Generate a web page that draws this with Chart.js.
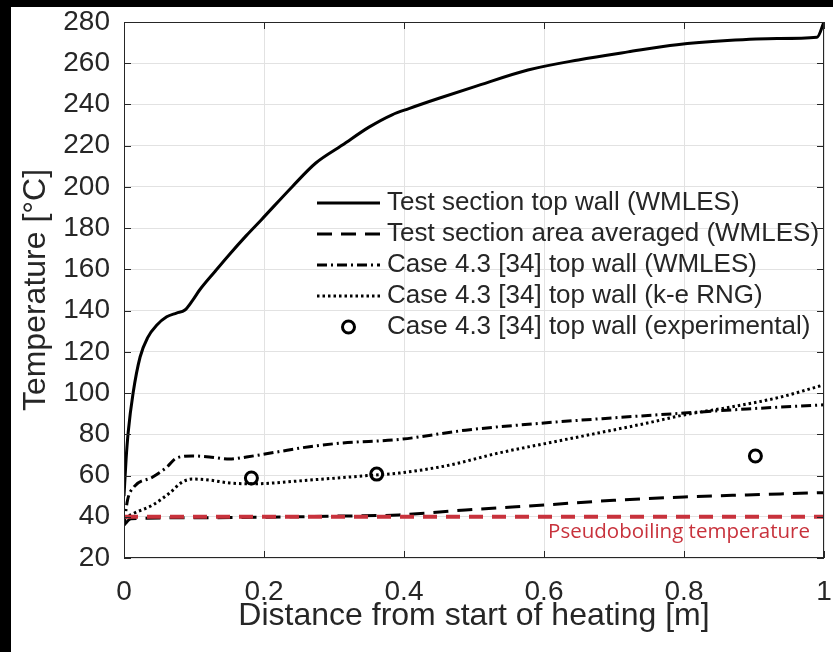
<!DOCTYPE html>
<html><head><meta charset="utf-8">
<script src="https://cdn.jsdelivr.net/npm/chart.js@4/dist/chart.umd.min.js"></script>
<style>
html,body{margin:0;padding:0;background:#000;width:833px;height:652px;overflow:hidden}
#wrap{position:absolute;left:11px;top:7px;width:822px;height:645px;background:#fff}
canvas{display:block}
</style></head><body>
<div id="wrap"><canvas id="c" width="822" height="645"></canvas></div>
<script>
// ---- data ----
const topWallX = [0, 0.003, 0.006, 0.013, 0.023, 0.034, 0.047, 0.061, 0.075, 0.087, 0.098, 0.108, 0.13, 0.15, 0.175, 0.196, 0.24, 0.274, 0.312, 0.35, 0.383, 0.407, 0.45, 0.5, 0.577, 0.649, 0.72, 0.79, 0.862, 0.933, 0.99, 1.0];
const topWallY = [50, 68, 81, 100, 117.5, 127, 133, 137, 138.8, 140.3, 145, 150, 159, 167, 176.5, 184, 200, 211.6, 220.3, 229, 235, 238, 243, 248.5, 256.7, 261.6, 265.5, 269, 271, 272, 272.6, 280];

const areaAvgX = [0, 0.01, 0.1, 0.2, 0.3, 0.393, 0.488, 0.6, 0.7, 0.8, 0.89, 1.0];
const areaAvgY = [36, 39, 39.5, 39.8, 40.3, 40.9, 43.3, 45.7, 48, 49.6, 50.6, 51.7];

const caseWmlesX = [0, 0.005, 0.013, 0.041, 0.061, 0.075, 0.098, 0.122, 0.151, 0.175, 0.218, 0.265, 0.312, 0.393, 0.488, 0.6, 0.7, 0.8, 0.89, 1.0];
const caseWmlesY = [36, 48, 54, 59.3, 64, 68.5, 69.5, 69, 68, 69, 71.4, 74, 75.8, 77.5, 82, 85.5, 88, 90.3, 92.3, 94.3];

const caseRngX = [0, 0.018, 0.041, 0.065, 0.084, 0.098, 0.122, 0.151, 0.184, 0.265, 0.36, 0.393, 0.464, 0.535, 0.606, 0.677, 0.748, 0.8, 0.866, 0.937, 1.0];
const caseRngY = [39.4, 42.3, 45.7, 51.5, 57, 58.3, 57.8, 56.4, 56, 57.8, 60.3, 61.2, 65, 70.9, 75.8, 80.6, 85.5, 89.4, 93.2, 98, 104];

const expX = [0.182, 0.361, 0.902];
const expY = [58.8, 60.7, 69.5];

const pseudoX = [0, 1];
const pseudoY = [40, 40];
const pseudoLabel = 'Pseudoboiling temperature';
const pseudoLabelAt = [0.98, 32.6];

const seriesLabels = [
  'Test section top wall (WMLES)',
  'Test section area averaged (WMLES)',
  'Case 4.3 [34] top wall (WMLES)',
  'Case 4.3 [34] top wall (k-e RNG)',
  'Case 4.3 [34] top wall (experimental)'
];
const xTitle = 'Distance from start of heating [m]';
const yTitle = 'Temperature [°C]';

// ---- helpers ----
const pts = (xs, ys) => xs.map((x, i) => ({x, y: ys[i]}));
const INK = '#262626';
const RED = '#c8323c';
const FONT = "'Liberation Sans', Arial, Helvetica, sans-serif";
const CA = {left: 113, top: 15, right: 6, bottom: 94};

const frame = {
  id: 'frame',
  afterDatasetsDraw(chart) {
    const {ctx, chartArea: a, scales: {x, y}} = chart;
    ctx.save();
    ctx.setLineDash([]);
    ctx.strokeStyle = INK; ctx.lineWidth = 1;
    ctx.strokeRect(a.left + 0.5, a.top + 0.5, a.right - a.left - 1, a.bottom - a.top - 1);
    const L = 7;
    ctx.beginPath();
    x.ticks.forEach(t => {
      const px = Math.round(x.getPixelForValue(t.value)) + 0.5;
      ctx.moveTo(px, a.bottom); ctx.lineTo(px, a.bottom - L);
      ctx.moveTo(px, a.top); ctx.lineTo(px, a.top + L);
    });
    y.ticks.forEach(t => {
      const py = Math.round(y.getPixelForValue(t.value)) + 0.5;
      ctx.moveTo(a.left, py); ctx.lineTo(a.left + L, py);
      ctx.moveTo(a.right, py); ctx.lineTo(a.right - L, py);
    });
    ctx.stroke();

    // red annotation text
    ctx.fillStyle = RED;
    ctx.font = "20.5px 'Open Sans', Lato, sans-serif";
    ctx.textAlign = 'right'; ctx.textBaseline = 'middle';
    ctx.fillText(pseudoLabel, x.getPixelForValue(pseudoLabelAt[0]), y.getPixelForValue(pseudoLabelAt[1]));

    // legend inside the axes
    const rows = [181, 212, 243, 274, 305];
    const s0 = a.left + 193, s1 = a.left + 256, tx = a.left + 263;
    ctx.font = '26px ' + FONT;
    ctx.textAlign = 'left'; ctx.textBaseline = 'middle';
    chart.data.datasets.forEach(ds => {
      if (ds.legendRow === undefined) return;
      const yy = a.top + rows[ds.legendRow];
      ctx.save();
      ctx.strokeStyle = ds.borderColor;
      ctx.lineWidth = ds.borderWidth;
      if (ds.showLine === false) {
        ctx.setLineDash([]);
        ctx.beginPath();
        ctx.arc((s0 + s1) / 2, yy, ds.pointRadius, 0, Math.PI * 2);
        ctx.stroke();
      } else {
        ctx.setLineDash(ds.borderDash || []);
        ctx.beginPath();
        ctx.moveTo(s0, yy); ctx.lineTo(s1, yy);
        ctx.stroke();
      }
      ctx.restore();
      ctx.fillStyle = INK;
      ctx.fillText(ds.label, tx, yy);
    });
    ctx.restore();
  }
};

const lineDs = (label, xs, ys, dash, row, width) => ({
  label, data: pts(xs, ys), legendRow: row,
  borderColor: '#000', backgroundColor: '#000', borderWidth: width || 3,
  borderDash: dash, pointRadius: 0, cubicInterpolationMode: 'monotone', order: 1
});

new Chart(document.getElementById('c'), {
  type: 'line',
  data: {
    datasets: [
      lineDs(seriesLabels[0], topWallX, topWallY, [], 0, 3),
      lineDs(seriesLabels[1], areaAvgX, areaAvgY, [15, 9], 1, 3),
      lineDs(seriesLabels[2], caseWmlesX, caseWmlesY, [10, 4, 2, 4], 2, 3),
      lineDs(seriesLabels[3], caseRngX, caseRngY, [2.5, 3], 3, 3),
      {
        label: seriesLabels[4], data: pts(expX, expY), legendRow: 4, showLine: false,
        borderColor: '#000', backgroundColor: 'rgba(0,0,0,0)', borderWidth: 3,
        pointRadius: 6, pointHoverRadius: 6, pointStyle: 'circle', order: 1
      },
      {
        label: 'pseudo', data: pts(pseudoX, pseudoY),
        borderColor: RED, borderWidth: 4, borderDash: [14, 9], pointRadius: 0, order: 0
      }
    ]
  },
  options: {
    responsive: false, animation: false, devicePixelRatio: 1,
    layout: {padding: {left: 0, top: CA.top, right: CA.right, bottom: 0}},
    plugins: {legend: {display: false}, tooltip: {enabled: false}},
    scales: {
      x: {
        type: 'linear', min: 0, max: 1,
        ticks: {stepSize: 0.2, color: INK, font: {family: FONT, size: 28}, padding: 17, maxRotation: 0,
                callback: v => String(Math.round(v * 10) / 10)},
        grid: {color: '#e2e2e2', drawTicks: false},
        border: {display: false},
        title: {display: true, text: xTitle, color: INK, font: {family: FONT, size: 32}, padding: {top: 0, bottom: 17}},
        afterFit(s) { s.height = CA.bottom; s.paddingLeft = 0; s.paddingRight = 0; }
      },
      y: {
        type: 'linear', min: 20, max: 280,
        ticks: {stepSize: 20, color: INK, font: {family: FONT, size: 28}, padding: 14},
        grid: {color: '#e2e2e2', drawTicks: false},
        border: {display: false},
        title: {display: true, text: yTitle, color: INK, font: {family: FONT, size: 32}, padding: {top: 6, bottom: 0}},
        afterFit(s) { s.width = CA.left; s.paddingTop = 0; s.paddingBottom = 0; }
      }
    }
  },
  plugins: [frame]
});
</script>
</body></html>
